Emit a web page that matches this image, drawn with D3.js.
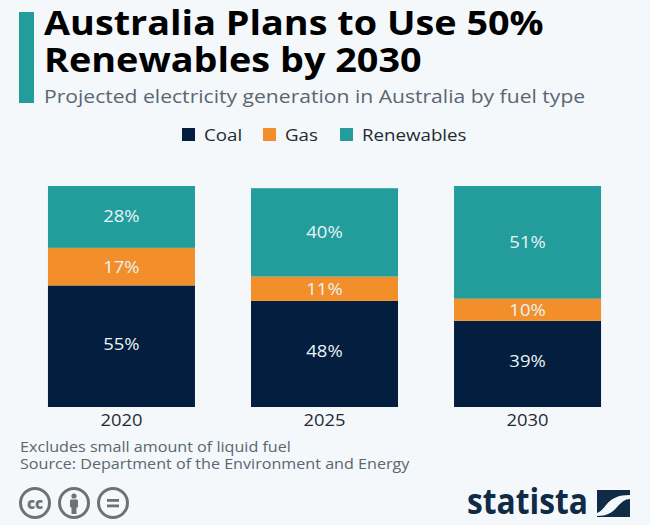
<!DOCTYPE html>
<html><head><meta charset="utf-8">
<script src="https://cdnjs.cloudflare.com/ajax/libs/d3/7.8.5/d3.min.js"></script>
<style>html,body{margin:0;padding:0;background:#f4f8fb}svg{display:block}text{font-family:"Open Sans",sans-serif}</style>
</head><body><svg id="c" width="650" height="525"></svg>
<script>
const years = ["2020","2025","2030"];
const seriesNames = ["Coal","Gas","Renewables"];
const coal = [55,48,39];
const gas = [17,11,10];
const renewables = [28,40,51];
const seriesValues = [coal,gas,renewables];
const colors = ["#031e3f","#f28f2b","#239c9c"];
const titleLines = ["Australia Plans to Use 50%","Renewables by 2030"];
const subtitle = "Projected electricity generation in Australia by fuel type";
const notes = ["Excludes small amount of liquid fuel","Source: Department of the Environment and Energy"];

// the reference's type is slightly wider than the installed face
function stretch(sel,k){
  sel.each(function(){
    const w=this.getComputedTextLength();
    d3.select(this).attr("textLength",w*k).attr("lengthAdjust","spacingAndGlyphs");
  });
  return sel;
}

const svg = d3.select("#c");
svg.append("rect").attr("width",650).attr("height",525).attr("fill","#f4f8fb");
svg.append("rect").attr("x",19).attr("y",12).attr("width",15).attr("height",91).attr("fill","#239c9c");
stretch(svg.selectAll(".t").data(titleLines).join("text").attr("x",44).attr("y",(d,i)=>35+i*37)
  .attr("font-size",33.5).attr("font-weight",700).attr("fill","#000").text(d=>d),1.128);
stretch(svg.append("text").attr("x",44).attr("y",103).attr("font-size",19).attr("fill","#5b6670").text(subtitle),1.11);

// legend
const legendX=[182,263,340], legendTextX=[204,285,362];
seriesNames.forEach((n,i)=>{
  svg.append("rect").attr("x",legendX[i]).attr("y",128).attr("width",13).attr("height",13).attr("fill",colors[i]);
  stretch(svg.append("text").attr("x",legendTextX[i]).attr("y",140.5).attr("font-size",17).attr("fill","#1f2a33").text(n),1.1);
});

const x = d3.scaleBand().domain(years).range([17.5,631.5]).paddingInner(0.276).paddingOuter(0.15);
const y = d3.scaleLinear().domain([0,100]).range([407,186]);
const stack = d3.stack().keys([0,1,2]).value((d,k)=>seriesValues[k][years.indexOf(d)]);
const layers = stack(years);
const labelShift=[3.5,6,5.5];
layers.forEach((layer,k)=>{
  const g = svg.append("g");
  g.selectAll("rect").data(layer).join("rect")
    .attr("x",(d,i)=>x(years[i])).attr("width",x.bandwidth())
    .attr("y",d=>y(d[1])).attr("height",d=>y(d[0])-y(d[1])).attr("fill",colors[k]);
  const labels=g.selectAll("text").data(layer).join("text")
    .attr("x",(d,i)=>x(years[i])+x.bandwidth()/2)
    .attr("y",d=>(y(d[0])+y(d[1]))/2+labelShift[k])
    .attr("text-anchor","middle").attr("font-size",16.5).attr("fill","#eaf4f6")
    .text((d,i)=>seriesValues[k][i]+"%");
  stretch(labels,1.12);
});
const axis = svg.append("g").attr("transform","translate(0,407)").call(d3.axisBottom(x).tickSize(0).tickPadding(5));
axis.select(".domain").remove();
const tickLabels=axis.selectAll("text").attr("font-size",17).attr("fill","#1f2a33").attr("font-family",'"Open Sans",sans-serif').attr("dy","0.85em");
stretch(tickLabels,1.08);

stretch(svg.selectAll(".n").data(notes).join("text").attr("x",20).attr("y",(d,i)=>452+i*17)
  .attr("font-size",14.6).attr("fill","#5b6670").text(d=>d),1.105);

// licence icons
const ig = svg.append("g").attr("fill","none").attr("stroke","#6f7274").attr("stroke-width",3);
[35,74,113].forEach(cx=>ig.append("circle").attr("cx",cx).attr("cy",503).attr("r",14.5));
svg.append("text").attr("x",35).attr("y",508.5).attr("text-anchor","middle").attr("font-size",15).attr("font-weight",800).attr("fill","#6f7274").text("cc");
svg.append("circle").attr("cx",74).attr("cy",496).attr("r",2.6).attr("fill","#6f7274");
svg.append("rect").attr("x",70).attr("y",499.5).attr("width",8).attr("height",8).attr("rx",1).attr("fill","#6f7274");
svg.append("rect").attr("x",71.5).attr("y",506).attr("width",5).attr("height",8).attr("fill","#6f7274");
svg.append("rect").attr("x",107).attr("y",499).attr("width",12).attr("height",2.8).attr("fill","#6f7274");
svg.append("rect").attr("x",107).attr("y",504.5).attr("width",12).attr("height",2.8).attr("fill","#6f7274");

// logo
svg.append("text").attr("x",467).attr("y",514).attr("font-size",36).attr("font-weight",700)
  .attr("fill","#0f2b46").attr("font-family",'"Open Sans",sans-serif').attr("textLength",121).attr("lengthAdjust","spacingAndGlyphs").text("statista");
svg.append("path").attr("fill","#0f2b46").attr("d","M597 490H630V495C618 495 612 498 606 505C603 509 600 512 597 513Z");
svg.append("path").attr("fill","#0f2b46").attr("d","M630 499V517H597V516C608 516 613 512 618 506C622 502 625 499 630 499Z");
</script></body></html>
